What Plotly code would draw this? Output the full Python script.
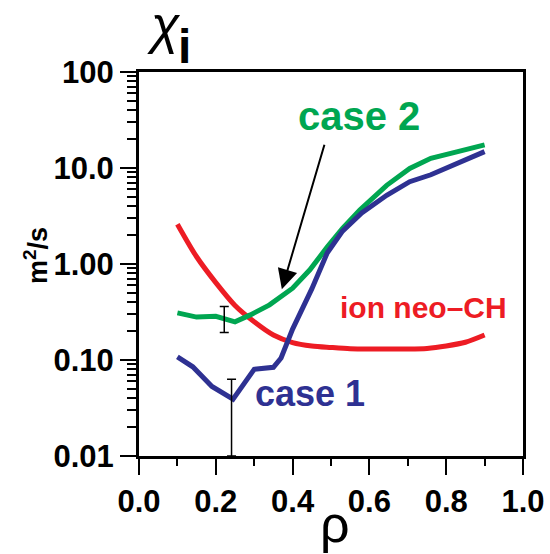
import plotly.graph_objects as go
import math

# radial grid and diffusivities (m^2/s)
case1_rho = [0.10, 0.14, 0.19, 0.245, 0.30, 0.35, 0.37, 0.40, 0.45, 0.49, 0.53, 0.58, 0.645, 0.705, 0.76, 0.83, 0.90]
case1_chi = [0.108, 0.085, 0.053, 0.039, 0.080, 0.084, 0.105, 0.21, 0.55, 1.30, 2.2, 3.4, 5.2, 7.2, 8.5, 11.2, 14.8]

case2_rho = [0.10, 0.15, 0.20, 0.225, 0.25, 0.29, 0.34, 0.40, 0.445, 0.49, 0.53, 0.575, 0.645, 0.705, 0.76, 0.83, 0.90]
case2_chi = [0.31, 0.28, 0.285, 0.27, 0.25, 0.295, 0.375, 0.56, 0.87, 1.5, 2.35, 3.65, 6.6, 9.9, 12.6, 14.8, 17.4]

neo_rho = [0.10, 0.15, 0.20, 0.25, 0.30, 0.35, 0.40, 0.45, 0.50, 0.55, 0.60, 0.65, 0.70, 0.75, 0.80, 0.85, 0.90]
neo_chi = [2.6, 1.19, 0.64, 0.37, 0.25, 0.182, 0.152, 0.140, 0.135, 0.131, 0.130, 0.130, 0.130, 0.132, 0.140, 0.153, 0.182]

# representative uncertainty bars
err_rho = [0.222, 0.241]
err_mid = [0.27, 0.039]
err_hi = [0.36, 0.063]
err_lo = [0.193, 0.01]

x_ticks = [0.0, 0.2, 0.4, 0.6, 0.8, 1.0]
x_ticktext = ["0.0", "0.2", "0.4", "0.6", "0.8", "1.0"]
y_ticks = [0.01, 0.1, 1, 10, 100]
y_ticktext = ["0.01", "0.10", "1.00", "10.0", "100"]

BLUE = "#2E3192"
GREEN = "#00A651"
RED = "#ED1C24"
SANS = "Liberation Sans, Arial, sans-serif"

fig = go.Figure()
fig.add_trace(go.Scatter(x=neo_rho, y=neo_chi, mode="lines",
                         line=dict(color=RED, width=5, shape="spline", smoothing=0.8)))
fig.add_trace(go.Scatter(x=case2_rho, y=case2_chi, mode="lines",
                         line=dict(color=GREEN, width=5)))
fig.add_trace(go.Scatter(x=case1_rho, y=case1_chi, mode="lines",
                         line=dict(color=BLUE, width=5)))
fig.add_trace(go.Scatter(
    x=err_rho, y=err_mid, mode="markers", marker=dict(size=1, opacity=0),
    error_y=dict(type="data", symmetric=False,
                 array=[h - m for h, m in zip(err_hi, err_mid)],
                 arrayminus=[m - l for m, l in zip(err_mid, err_lo)],
                 color="black", thickness=1.5, width=4.5)))

minor_y = [d * 10 ** e for e in range(-2, 2) for d in range(2, 10)]
tick_font = dict(family=SANS, size=31, color="black", weight="bold")

fig.update_layout(
    width=550, height=554,
    margin=dict(l=139, r=27, t=72, b=98, autoexpand=False),
    paper_bgcolor="white", plot_bgcolor="white",
    showlegend=False,
    xaxis=dict(range=[0, 1], tickvals=x_ticks, ticktext=x_ticktext,
               automargin=False, showgrid=False, zeroline=False,
               showline=True, linecolor="black", linewidth=3, mirror=True,
               ticks="outside", ticklen=16, tickwidth=2, tickcolor="black",
               tickfont=tick_font,
               minor=dict(tickvals=[0.1, 0.3, 0.5, 0.7, 0.9], ticks="outside",
                          ticklen=7, tickwidth=2, tickcolor="black")),
    yaxis=dict(type="log", range=[-2, 2], tickvals=y_ticks, ticktext=y_ticktext,
               automargin=False, showgrid=False, zeroline=False,
               showline=True, linecolor="black", linewidth=3, mirror=True,
               ticks="outside", ticklen=16, tickwidth=2, tickcolor="black",
               tickfont=tick_font,
               minor=dict(tickvals=minor_y, ticks="outside",
                          ticklen=9, tickwidth=1.5, tickcolor="black")),
)

annotations = [
    # arrow pointing at the case 2 profile
    dict(x=0.372, y=math.log10(0.545), ax=0.484, ay=math.log10(18.1),
         xref="x", yref="y", axref="x", ayref="y", text="",
         showarrow=True, arrowhead=2, arrowsize=2, arrowwidth=2, arrowcolor="black"),
    dict(x=0.573, y=1.542, xref="x", yref="y", text="case 2", showarrow=False,
         xanchor="center", yanchor="middle",
         font=dict(family=SANS, size=40, color=GREEN, weight="bold")),
    dict(x=0.445, y=-1.354, xref="x", yref="y", text="case 1", showarrow=False,
         xanchor="center", yanchor="middle",
         font=dict(family=SANS, size=36, color=BLUE, weight="bold")),
    dict(x=0.740, y=-0.458, xref="x", yref="y", text="ion neo\u2013CH", showarrow=False,
         xanchor="center", yanchor="middle",
         font=dict(family=SANS, size=30, color=RED, weight="bold")),
    # axis titles
    dict(x=0.065, y=1.122, xref="paper", yref="paper", text="\u03c7", showarrow=False,
         xanchor="center", yanchor="middle",
         font=dict(family=SANS, size=52, color="black", style="italic")),
    dict(x=0.119, y=1.066, xref="paper", yref="paper", text="i", showarrow=False,
         xanchor="center", yanchor="middle",
         font=dict(family=SANS, size=48, color="black", weight="bold")),
    dict(x=-0.268, y=0.521, xref="paper", yref="paper", text="m<sup>2</sup>/s",
         textangle=-90, showarrow=False, xanchor="center", yanchor="middle",
         font=dict(family=SANS, size=27, color="black", weight="bold")),
    dict(x=0.51, y=-0.178, xref="paper", yref="paper", text="\u03c1", showarrow=False,
         xanchor="center", yanchor="middle",
         font=dict(family=SANS, size=52, color="black")),
]
fig.update_layout(annotations=annotations)

fig.write_html("out.html")
